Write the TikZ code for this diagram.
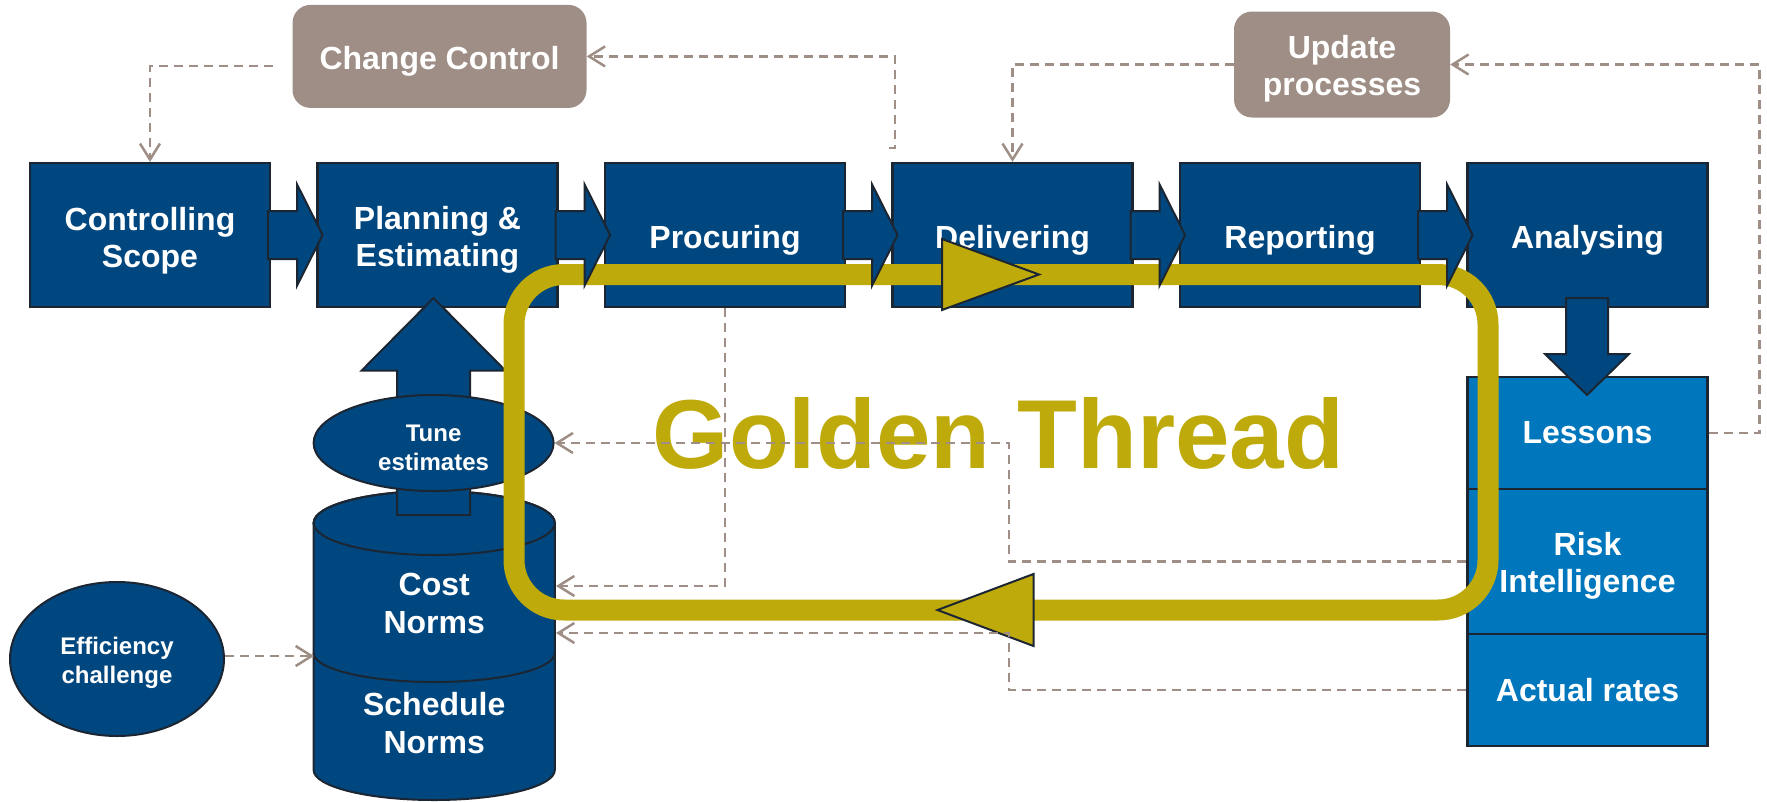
\documentclass[tikz,border=0pt]{standalone}
\usepackage{fontspec}
\setmainfont{Liberation Sans}
\usetikzlibrary{shapes.geometric,arrows.meta}

\definecolor{navy}{HTML}{00477F}
\definecolor{skyblue}{HTML}{0077BD}
\definecolor{taupe}{HTML}{9E8E85}
\definecolor{threadgold}{HTML}{BFAA0B}
\definecolor{edge}{HTML}{1C2633}

\tikzset{
  stage/.style={rectangle, draw=edge, line width=2.2pt, fill=navy, text=white,
    minimum width=240pt, minimum height=144pt, inner sep=0pt, align=center,
    font=\fontsize{32}{37}\selectfont\bfseries, text height=33pt},
  twoline/.style={text height=70.7pt},
  lesson/.style={rectangle, draw=edge, line width=2.2pt, fill=skyblue, text=white,
    minimum width=240pt, inner sep=0pt, align=center,
    font=\fontsize{32}{37}\selectfont\bfseries},
  gatebox/.style={rectangle, rounded corners=18pt, fill=taupe, text=white,
    inner sep=0pt, align=center, font=\fontsize{32}{37}\selectfont\bfseries},
  bubble/.style={ellipse, draw=edge, line width=2pt, fill=navy, text=white,
    inner sep=0pt, align=center, font=\fontsize{24}{29}\selectfont\bfseries},
  normtext/.style={text=white, inner sep=0pt, align=center,
    font=\fontsize{32}{37.5}\selectfont\bfseries},
  flow/.style={draw=edge, line width=2pt, fill=navy, line join=miter},
  thread/.style={draw=threadgold, line width=21pt, rounded corners=50pt},
  threadtip/.style={draw=edge, line width=2pt, fill=threadgold},
  feedback/.style={draw=taupe, line width=2.5pt, dash pattern=on 9pt off 6pt,
    -{Straight Barb[length=16pt,width=20pt]}}
}

\begin{document}
\begin{tikzpicture}[x=1pt, y=-1pt]
  \useasboundingbox (0,0) rectangle (1767,801);

  % change boxes
  \node[gatebox, minimum width=294pt, minimum height=103pt, text height=33pt] (cc) at (439.5,56.4) {Change Control};
  \node[gatebox, minimum width=216pt, minimum height=106pt, text height=67.7pt] (upd) at (1342,64.5) {Update\\processes};

  % process chain
  \node[stage, twoline] (scope) at (150,235)   {Controlling\\Scope};
  \node[stage, twoline] (plan)  at (437.5,235) {Planning \&\\Estimating};
  \node[stage] (procure) at (725,235)    {Procuring};
  \node[stage] (deliver) at (1012.5,235) {Delivering};
  \node[stage] (report)  at (1300,235)   {Reporting};
  \node[stage] (analyse) at (1587.5,235) {Analysing};

  % norms store
  \draw[edge, line width=2pt, fill=navy] (313.6,523) -- (313.6,770)
      arc[start angle=180, end angle=360, x radius=120.6pt, y radius=30pt]
      -- (554.8,523)
      arc[start angle=0, end angle=180, x radius=120.6pt, y radius=32pt] -- cycle;
  \draw[edge, line width=2pt] (434.2,523) ellipse[x radius=120.6pt, y radius=32pt];
  \draw[edge, line width=2pt] (313.6,653) arc[start angle=180, end angle=360, x radius=120.6pt, y radius=29pt];
  \node[normtext, anchor=base] (cost)  at (434.2,633.3) {Cost\\Norms};
  \node[normtext, anchor=base] (sched) at (434.2,753.3) {Schedule\\Norms};

  % feed up into planning
  \draw[flow] (433.5,298) -- (505.5,370.7) -- (470,370.7) -- (470,515)
      -- (397,515) -- (397,370.7) -- (361.5,370.7) -- cycle;

  \node[bubble, minimum width=240pt, minimum height=96pt, text height=55.4pt] (tune) at (433.6,443) {Tune\\estimates};
  \node[bubble, minimum width=214pt, minimum height=154pt, text height=53.6pt] (eff) at (117,659) {Efficiency\\challenge};

  % lessons stack
  \node[lesson, minimum height=112.3pt] (lessons) at (1587.5,432.8) {Lessons};
  \node[lesson, minimum height=145pt, text height=69.7pt] (risk) at (1587.5,561.5) {Risk\\Intelligence};
  \node[lesson, minimum height=112pt] (actual) at (1587.5,690) {Actual rates};

  \draw[flow] (1587,395) -- (1629,354) -- (1608,354) -- (1608,298)
      -- (1566,298) -- (1566,354) -- (1545,354) -- cycle;

  % golden thread
  \node[text=threadgold, inner sep=0pt, anchor=base,
    font=\fontsize{98}{110}\selectfont\bfseries] (gt) at (998.5,468) {Golden Thread};
  \draw[thread] (514,274.5) rectangle (1488,610);
  \draw[threadtip] (942,239) -- (1039,274.5) -- (942,310) -- cycle;
  \draw[threadtip] (937.5,610) -- (1033.5,574) -- (1033.5,646) -- cycle;

  \foreach \from in {scope,plan,procure,deliver,report}
    \draw[flow, shift={(\from.east)}] (-3,-24) -- (26,-24) -- (26,-50.5)
        -- (51.5,0) -- (26,50.5) -- (26,24) -- (-3,24) -- cycle;

  % feedback loops
  \coordinate (ccout) at (273,66);
  \coordinate (delout) at (889,148);
  \coordinate (split) at (1009,500);
  \coordinate (costin) at (556,586);
  \coordinate (costlow) at (556,633);
  \coordinate (schedin) at (314,656);

  \draw[feedback] (ccout) -| (scope.north);
  \draw[feedback] (delout) -- ++(6,0) |- (cc.east);
  \draw[feedback] (lessons.east) -- ++(51,0) |- (upd.east);
  \draw[feedback] (upd.west) -| (deliver.north);
  \draw[feedback] (procure.south) |- (costin);
  \draw[feedback] (risk.west) -- (risk.west -| split) |- (tune.east);
  \draw[feedback] (actual.west) -- (actual.west -| split) |- (costlow);
  \draw[feedback] (eff.east |- schedin) -- (schedin);
\end{tikzpicture}
\end{document}
